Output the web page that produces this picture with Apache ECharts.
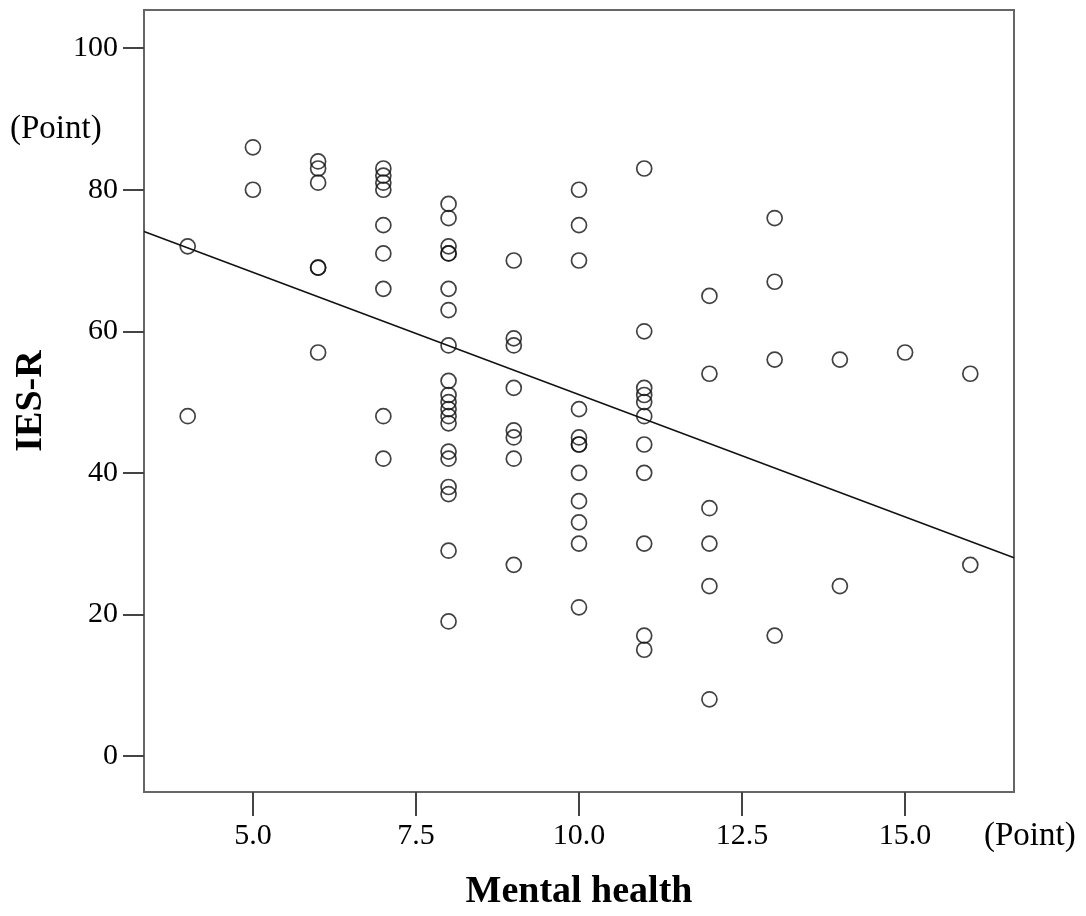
<!DOCTYPE html>
<html><head><meta charset="utf-8">
<script src="https://cdn.jsdelivr.net/npm/echarts@6/dist/echarts.min.js"></script>
<style>html,body{margin:0;padding:0;background:#fff}#c{width:1086px;height:916px}</style>
</head><body><div id="c"></div>
<script>
// Data
const mentalHealth = [
  4, 4,
  5, 5,
  6, 6, 6, 6, 6, 6,
  7, 7, 7, 7, 7, 7, 7, 7, 7,
  8, 8, 8, 8, 8, 8, 8, 8, 8, 8, 8, 8, 8, 8, 8, 8, 8, 8, 8, 8,
  9, 9, 9, 9, 9, 9, 9, 9,
  10, 10, 10, 10, 10, 10, 10, 10, 10, 10, 10, 10,
  11, 11, 11, 11, 11, 11, 11, 11, 11, 11, 11,
  12, 12, 12, 12, 12, 12,
  13, 13, 13, 13,
  14, 14,
  15,
  16, 16
];
const iesR = [
  72, 48,
  86, 80,
  84, 83, 81, 69, 69, 57,
  83, 82, 81, 80, 75, 71, 66, 48, 42,
  78, 76, 72, 71, 71, 66, 63, 58, 53, 51, 50, 49, 48, 47, 43, 42, 38, 37, 29, 19,
  70, 59, 58, 52, 46, 45, 42, 27,
  80, 75, 70, 49, 45, 44, 44, 40, 36, 33, 30, 21,
  83, 60, 52, 51, 50, 48, 44, 40, 30, 17, 15,
  65, 54, 35, 30, 24, 8,
  76, 67, 56, 17,
  56, 24,
  57,
  54, 27
];
const xTicks = [5, 7.5, 10, 12.5, 15];
const yTicks = [0, 20, 40, 60, 80, 100];
const fitX = [3.33, 16.67];
const fitY = [74.1, 28.0];
const xName = 'Mental health';
const yName = 'IES-R';
const unitLabel = '(Point)';

const points = mentalHealth.map((x, i) => [x, iesR[i]]);
const fitLine = fitX.map((x, i) => [x, fitY[i]]);

const FONT = '"Liberation Serif", "Times New Roman", serif';
const chart = echarts.init(document.getElementById('c'), null, {renderer: 'canvas'});
chart.setOption({
  animation: false,
  backgroundColor: '#fff',
  grid: {left: 144, right: 72, top: 10, bottom: 122, show: true, borderColor: '#666', borderWidth: 2, containLabel: false},
  xAxis: {
    type: 'value', min: 3.33, max: 16.67,
    name: xName, nameLocation: 'middle', nameGap: 81,
    nameTextStyle: {fontFamily: FONT, fontSize: 38, fontWeight: 'bold', color: '#000'},
    axisLine: {show: true, onZero: false, lineStyle: {color: '#666', width: 2}},
    axisTick: {show: true, length: 24, lineStyle: {color: '#444', width: 2}, customValues: xTicks},
    axisLabel: {fontFamily: FONT, fontSize: 30, color: '#000', margin: 29, customValues: xTicks,
      formatter: v => Number(v).toFixed(1)},
    splitLine: {show: false}
  },
  yAxis: {
    type: 'value', min: -5.1, max: 105.4,
    name: yName, nameLocation: 'middle', nameGap: 94,
    nameTextStyle: {fontFamily: FONT, fontSize: 38, fontWeight: 'bold', color: '#000'},
    axisLine: {show: true, onZero: false, lineStyle: {color: '#666', width: 2}},
    axisTick: {show: true, length: 21, lineStyle: {color: '#444', width: 2}, customValues: yTicks},
    axisLabel: {fontFamily: FONT, fontSize: 30, color: '#000', margin: 26, customValues: yTicks},
    splitLine: {show: false}
  },
  graphic: [
    {type: 'text', left: 10, top: 113, style: {text: unitLabel, font: '33px ' + FONT, fill: '#000'}},
    {type: 'text', left: 984, top: 820, style: {text: unitLabel, font: '33px ' + FONT, fill: '#000'}}
  ],
  series: [
    {type: 'scatter', data: points, symbol: 'circle', symbolSize: 15,
      itemStyle: {color: 'rgba(255,255,255,0)', borderColor: '#111', borderWidth: 1.7}, z: 3},
    {type: 'line', data: fitLine, symbol: 'none', lineStyle: {color: '#111', width: 1.5}, z: 2}
  ]
});
</script>
</body></html>
